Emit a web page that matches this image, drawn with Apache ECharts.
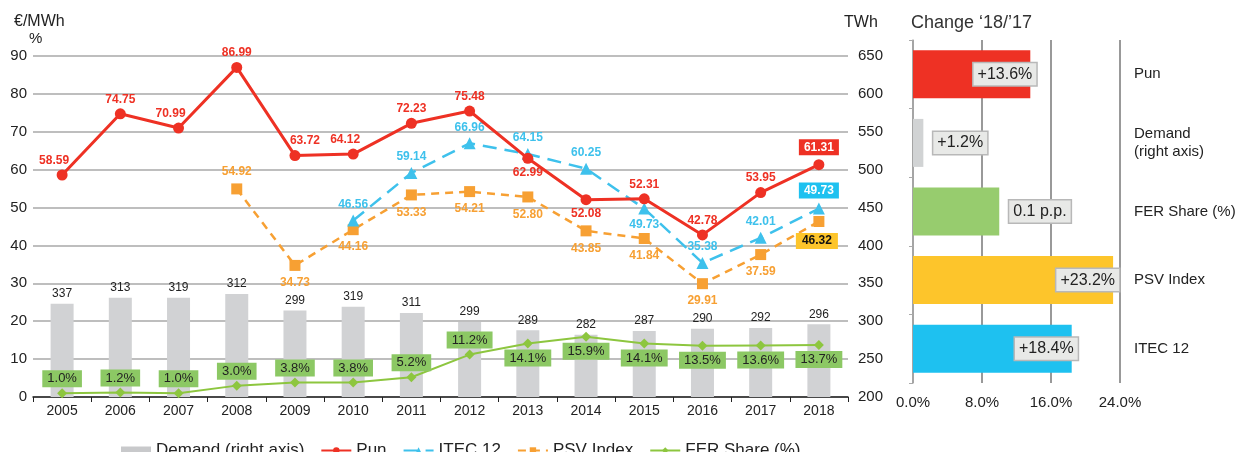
<!DOCTYPE html>
<html>
<head>
    <meta charset="utf-8" />
    <title>Prices, demand and FER share</title>
    <script src="https://cdn.jsdelivr.net/npm/echarts@6/dist/echarts.min.js"></script>
    <style>
        html, body { margin: 0; padding: 0; background: #fff; }
        #chart { width: 1247px; height: 452px; }
    </style>
</head>
<body>
    <div id="chart"></div>
    <script>
        // data
        var years = ['2005', '2006', '2007', '2008', '2009', '2010', '2011', '2012', '2013', '2014', '2015', '2016', '2017', '2018'];
        var demandBars = [323, 331, 331, 336, 314, 319, 311, 299, 288, 282, 287, 290, 291, 296];
        var demandLabels = [337, 313, 319, 312, 299, 319, 311, 299, 289, 282, 287, 290, 292, 296];
        var pun = [58.59, 74.75, 70.99, 86.99, 63.72, 64.12, 72.23, 75.48, 62.99, 52.08, 52.31, 42.78, 53.95, 61.31];
        var itec = [null, null, null, null, null, 46.56, 59.14, 66.96, 64.15, 60.25, 49.73, 35.38, 42.01, 49.73];
        var psv = [null, null, null, 54.92, 34.73, 44.16, 53.33, 54.21, 52.80, 43.85, 41.84, 29.91, 37.59, 46.32];
        var fer = [1.0, 1.2, 1.0, 3.0, 3.8, 3.8, 5.2, 11.2, 14.1, 15.9, 14.1, 13.5, 13.6, 13.7];

        var changeCats = ['Pun', 'Demand\n(right axis)', 'FER Share (%)', 'PSV Index', 'ITEC 12'];
        var changeValues = [13.6, 1.2, 10.0, 23.2, 18.4];
        var changeLabels = ['+13.6%', '+1.2%', '0.1 p.p.', '+23.2%', '+18.4%'];
        var changeTicks = [0, 8, 16, 24];

        var RED = '#ee3124', BLUE = '#3ec1ec', ORANGE = '#f7a033', GREEN = '#8dc63f';
        var changeColors = [RED, '#d1d3d4', '#97cc6e', '#fdc52b', '#1ec1f0'];

        var last = years.length - 1;

        function fmt2(v) { return v.toFixed(2); }

        var punData = pun.map(function (v, i) {
            var d = { value: v };
            if (i === 8 || i === 9) d.label = { position: 'bottom' };
            if (i === 0) d.label = { offset: [-8, 0] };
            if (i === 2) d.label = { offset: [-8, 0] };
            if (i === 4) d.label = { offset: [10, 0] };
            if (i === 5) d.label = { offset: [-8, 0] };
            if (i === last) d.label = { backgroundColor: RED, color: '#fff', padding: [2, 5], distance: 4 };
            return d;
        });
        var itecData = itec.map(function (v, i) {
            var d = { value: v };
            if (i === 10) d.label = { position: 'bottom' };
            if (i === last) d.label = { backgroundColor: '#1ec1f0', color: '#fff', padding: [2, 5], distance: 4 };
            return d;
        });
        var psvData = psv.map(function (v, i) {
            var d = { value: v };
            if (i === 3) d.label = { position: 'top' };
            if (i === last) d.label = { backgroundColor: '#fdc52b', color: '#111', padding: [2, 6], offset: [-2, 0] };
            return d;
        });
        var ferData = fer.map(function (v, i) {
            var d = { value: v };
            if (i >= 8) d.label = { position: 'bottom' };
            return d;
        });

        var chart = echarts.init(document.getElementById('chart'));

        var option = {
            animation: false,
            textStyle: { fontFamily: 'Liberation Sans, Arial, sans-serif' },
            graphic: [
                { type: 'text', left: 14, top: 14, style: { text: '€/MWh', fontSize: 16, fill: '#222', fontFamily: 'Liberation Sans' } },
                { type: 'text', left: 29, top: 31, style: { text: '%', fontSize: 15, fill: '#222', fontFamily: 'Liberation Sans' } },
                { type: 'text', left: 844, top: 15, style: { text: 'TWh', fontSize: 16, fill: '#222', fontFamily: 'Liberation Sans' } },
                { type: 'text', left: 911, top: 14, style: { text: 'Change ‘18/’17', fontSize: 18, fill: '#333', fontFamily: 'Liberation Sans' } }
            ],
            legend: {
                left: 116,
                top: 437,
                itemWidth: 30,
                itemHeight: 8,
                itemGap: 16,
                textStyle: { fontSize: 17, color: '#222' },
                data: [
                    { name: 'Demand (right axis)', icon: 'rect', itemStyle: { color: '#c8c9cb' } },
                    'Pun', 'ITEC 12', 'PSV Index', 'FER Share (%)'
                ]
            },
            grid: [
                { left: 33, right: 399, top: 56, bottom: 55 },
                { left: 913, right: 127, top: 40, bottom: 69 }
            ],
            xAxis: [
                {
                    type: 'category',
                    gridIndex: 0,
                    data: years,
                    axisLine: { lineStyle: { color: '#222', width: 1.5 } },
                    axisTick: { show: true, length: 5, lineStyle: { color: '#222' } },
                    axisLabel: { fontSize: 14, color: '#222', margin: 7 }
                },
                {
                    type: 'value',
                    gridIndex: 1,
                    min: changeTicks[0],
                    max: changeTicks[changeTicks.length - 1],
                    interval: changeTicks[1] - changeTicks[0],
                    axisLine: { show: false },
                    axisTick: { show: false },
                    axisLabel: {
                        fontSize: 15, color: '#222', margin: 12,
                        formatter: function (v) { return v.toFixed(1) + '%'; }
                    },
                    splitLine: { show: true, lineStyle: { color: '#777', width: 1.5 } }
                }
            ],
            yAxis: [
                {
                    type: 'value',
                    gridIndex: 0,
                    min: 0, max: 90, interval: 10,
                    axisLine: { show: false },
                    axisTick: { show: false },
                    axisLabel: { fontSize: 15, color: '#222', margin: 6 },
                    splitLine: { lineStyle: { color: '#a8a8a8', width: 1.5 } }
                },
                {
                    type: 'value',
                    gridIndex: 0,
                    position: 'right',
                    min: 200, max: 650, interval: 50,
                    axisLine: { show: false },
                    axisTick: { show: false },
                    axisLabel: { fontSize: 15, color: '#222', margin: 10 },
                    splitLine: { show: false }
                },
                {
                    type: 'category',
                    gridIndex: 1,
                    inverse: true,
                    data: changeCats,
                    axisLine: { show: true, lineStyle: { color: '#aaa', width: 1.5 } },
                    axisTick: { show: true, length: 4, inside: false, lineStyle: { color: '#aaa' } },
                    axisLabel: { show: false }
                },
                {
                    type: 'category',
                    gridIndex: 1,
                    position: 'right',
                    inverse: true,
                    data: changeCats,
                    axisLine: { show: false },
                    axisTick: { show: false },
                    axisLabel: { fontSize: 15, color: '#222', margin: 14, align: 'left', lineHeight: 18 }
                }
            ],
            series: [
                {
                    name: 'Demand (right axis)',
                    type: 'bar',
                    xAxisIndex: 0, yAxisIndex: 1,
                    data: demandBars,
                    barWidth: 23,
                    itemStyle: { color: '#d1d2d4' },
                    label: {
                        show: true, position: 'top', distance: 4, fontSize: 12, color: '#222',
                        formatter: function (p) { return demandLabels[p.dataIndex]; }
                    },
                    z: 1
                },
                {
                    name: 'Pun',
                    type: 'line',
                    xAxisIndex: 0, yAxisIndex: 0,
                    data: punData,
                    symbol: 'circle', symbolSize: 11,
                    lineStyle: { color: RED, width: 3 },
                    itemStyle: { color: RED },
                    label: { show: true, position: 'top', distance: 3, fontSize: 12, fontWeight: 'bold', color: RED, formatter: function (p) { return fmt2(p.value); } },
                    z: 5
                },
                {
                    name: 'ITEC 12',
                    type: 'line',
                    xAxisIndex: 0, yAxisIndex: 0,
                    data: itecData,
                    symbol: 'triangle', symbolSize: 12,
                    lineStyle: { color: BLUE, width: 2.5, type: [14, 8] },
                    itemStyle: { color: BLUE },
                    label: { show: true, position: 'top', distance: 4, fontSize: 12, fontWeight: 'bold', color: BLUE, formatter: function (p) { return fmt2(p.value); } },
                    z: 4
                },
                {
                    name: 'PSV Index',
                    type: 'line',
                    xAxisIndex: 0, yAxisIndex: 0,
                    data: psvData,
                    symbol: 'rect', symbolSize: 11,
                    lineStyle: { color: ORANGE, width: 2.5, type: [8, 6] },
                    itemStyle: { color: ORANGE },
                    label: { show: true, position: 'bottom', distance: 6, fontSize: 12, fontWeight: 'bold', color: ORANGE, formatter: function (p) { return fmt2(p.value); } },
                    z: 3
                },
                {
                    name: 'FER Share (%)',
                    type: 'line',
                    xAxisIndex: 0, yAxisIndex: 0,
                    data: ferData,
                    symbol: 'diamond', symbolSize: 10,
                    lineStyle: { color: GREEN, width: 2 },
                    itemStyle: { color: GREEN },
                    label: {
                        show: true, position: 'top', distance: 1, fontSize: 13, color: '#222',
                        backgroundColor: '#8cc864', padding: [2, 5],
                        formatter: function (p) { return p.value.toFixed(1) + '%'; }
                    },
                    z: 6
                },
                {
                    name: 'Change',
                    type: 'bar',
                    xAxisIndex: 1, yAxisIndex: 2,
                    data: changeValues.map(function (v, i) {
                        var d = { value: v, itemStyle: { color: changeColors[i] } };
                        if (v < 12) d.label = { position: 'right', distance: 4 };
                        return d;
                    }),
                    barWidth: 48,
                    label: {
                        show: true, position: 'insideRight', distance: 0, offset: [6, 0],
                        fontSize: 16, color: '#222',
                        backgroundColor: '#e8e9e7', borderColor: '#b8b8b8', borderWidth: 1.5,
                        padding: [3, 4],
                        formatter: function (p) { return changeLabels[p.dataIndex]; }
                    },
                    z: 2
                }
            ]
        };

        chart.setOption(option);
    </script>
</body>
</html>
